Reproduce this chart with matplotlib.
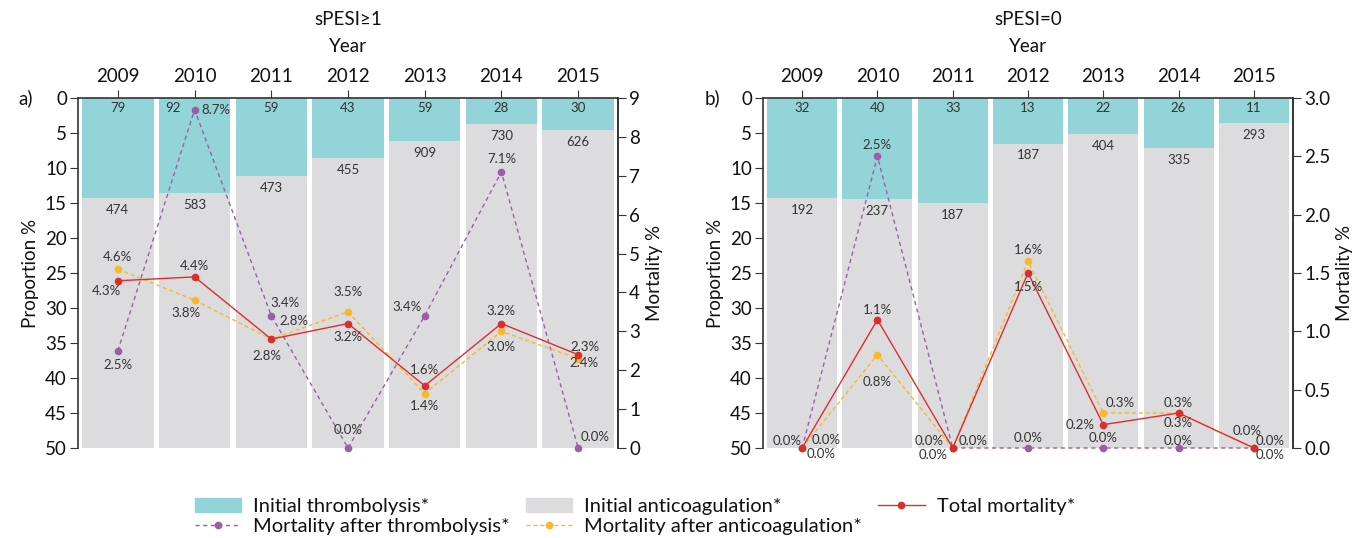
import matplotlib.pyplot as plt
from matplotlib.patches import Patch
from matplotlib.lines import Line2D
import numpy as np

plt.rcParams['font.family'] = ['Lato', 'DejaVu Sans']

years = [2009, 2010, 2011, 2012, 2013, 2014, 2015]

# sPESI >= 1
thromb_n_a = [79, 92, 59, 43, 59, 28, 30]
anticoag_n_a = [474, 583, 473, 455, 909, 730, 626]
mort_thromb_a = [2.5, 8.7, 3.4, 0.0, 3.4, 7.1, 0.0]
mort_anticoag_a = [4.6, 3.8, 2.8, 3.5, 1.4, 3.0, 2.3]
mort_total_a = [4.3, 4.4, 2.8, 3.2, 1.6, 3.2, 2.4]

# sPESI = 0
thromb_n_b = [32, 40, 33, 13, 22, 26, 11]
anticoag_n_b = [192, 237, 187, 187, 404, 335, 293]
mort_thromb_b = [0.0, 2.5, 0.0, 0.0, 0.0, 0.0, 0.0]
mort_anticoag_b = [0.0, 0.8, 0.0, 1.6, 0.3, 0.3, 0.0]
mort_total_b = [0.0, 1.1, 0.0, 1.5, 0.2, 0.3, 0.0]

TEAL = '#92d4d8'
GREY = '#dcdcde'
PURPLE = '#9b5fa8'
YELLOW = '#f7b82b'
RED = '#d7302f'
TXT = '#333333'

# label offsets in points (dx, dy) for each mortality point
off_a = {
    'thromb': [(0, -10), (15, 0), (10, 9), (0, 13), (-13, 6), (0, 9), (12, 8)],
    'anticoag': [(0, 9), (-6, -9), (16, 13), (0, 14), (0, -9), (0, -11), (5, 8)],
    'total': [(-8, -7), (0, 8), (-3, -12), (0, -10), (0, 11), (0, 9), (4, -6)],
}
off_b = {
    'thromb': [(14, -4), (0, 8), (-14, -5), (0, 7), (0, 7), (0, 5), (-5, 12)],
    'anticoag': [(17, 6), (0, -20), (15, 5), (0, 8), (12, 7), (0, -7), (12, 5)],
    'total': [(-11, 5), (0, 7), (-17, 5), (0, -10), (-17, 0), (0, 7), (12, -5)],
}


def panel(ax, thromb_n, anticoag_n, m_thromb, m_anticoag, m_total,
          mmax, mticks, mfmt, title, letter, offs, shift92=False):
    x = np.arange(len(years))
    t = np.array(thromb_n, dtype=float)
    a = np.array(anticoag_n, dtype=float)
    prop = t / (t + a) * 100

    ax.bar(x, prop, width=0.93, color=TEAL, zorder=1)
    ax.bar(x, 100 - prop, bottom=prop, width=0.93, color=GREY, zorder=1)
    ax.set_ylim(50, 0)
    ax.set_xlim(-0.52, 6.52)
    ax.set_yticks(np.arange(0, 51, 5))

    for i in range(len(x)):
        dx = -0.28 if (shift92 and i == 1) else 0
        ax.text(x[i] + dx, 1.4, f'{thromb_n[i]}', ha='center', va='center',
                fontsize=9.5, color=TXT)
        ax.text(x[i], prop[i] + 1.7, f'{anticoag_n[i]}', ha='center', va='center',
                fontsize=9.5, color=TXT)

    ax.xaxis.tick_top()
    ax.set_xticks(x, [str(y) for y in years])
    ax.tick_params(axis='x', top=True, bottom=False, length=6, labelsize=13.5,
                   colors=TXT, labelcolor='#111111', pad=3)
    ax.tick_params(axis='y', length=6, labelsize=13.5, colors=TXT,
                   labelcolor='#111111', pad=2)
    ax.set_ylabel('Proportion %', fontsize=13.5, color='#111111', labelpad=4)
    ax.spines['bottom'].set_visible(False)
    for s in ('left', 'top', 'right'):
        ax.spines[s].set_color(TXT)
        ax.spines[s].set_linewidth(1.2)

    ax.text(0.5, 1.146, 'Year', transform=ax.transAxes, ha='center',
            va='center', fontsize=13.5, color='#111111')
    ax.text(0.5, 1.223, title, transform=ax.transAxes, ha='center',
            va='center', fontsize=13.5, color='#111111')
    ax.text(-0.11, 1.0, letter, transform=ax.transAxes, ha='left',
            va='center', fontsize=13.5, color='#111111')

    ax2 = ax.twinx()
    ax2.set_ylim(0, mmax)
    ax2.set_yticks(mticks)
    ax2.yaxis.set_major_formatter(plt.FormatStrFormatter(mfmt))
    ax2.tick_params(axis='y', length=6, labelsize=13.5, colors=TXT,
                    labelcolor='#111111', pad=2)
    ax2.set_ylabel('Mortality %', fontsize=13.5, color='#111111', labelpad=4)
    for s in ('left', 'top', 'bottom'):
        ax2.spines[s].set_visible(False)
    ax2.spines['right'].set_color(TXT)
    ax2.spines['right'].set_linewidth(1.2)

    series = [
        ('thromb', m_thromb, PURPLE, (0, (3, 2.5))),
        ('anticoag', m_anticoag, YELLOW, (0, (3, 2))),
        ('total', m_total, RED, '-'),
    ]
    for key, vals, col, ls in series:
        ax2.plot(x, vals, color=col, linestyle=ls, linewidth=1.0,
                 marker='o', markersize=4.5, clip_on=False)
        for i, v in enumerate(vals):
            ax2.annotate(f'{v:.1f}%', (x[i], v), xytext=offs[key][i],
                         textcoords='offset points', ha='center', va='center',
                         fontsize=9.5, color=TXT, annotation_clip=False)
    return ax2


fig = plt.figure(figsize=(13.68, 5.38), dpi=100)
ax_a = fig.add_axes([78 / 1368, 90 / 538, 540 / 1368, 350 / 538])
ax_b = fig.add_axes([763 / 1368, 90 / 538, 530 / 1368, 350 / 538])

panel(ax_a, thromb_n_a, anticoag_n_a, mort_thromb_a, mort_anticoag_a,
      mort_total_a, 9, np.arange(0, 10, 1), '%d', 'sPESI\u22651', 'a)',
      off_a, shift92=True)
panel(ax_b, thromb_n_b, anticoag_n_b, mort_thromb_b, mort_anticoag_b,
      mort_total_b, 3.0, np.arange(0, 3.01, 0.5), '%.1f', 'sPESI=0', 'b)',
      off_b)

handles = [
    Patch(color=TEAL),
    Line2D([], [], color=PURPLE, linestyle=(0, (3, 2.5)), linewidth=1.0,
           marker='o', markersize=4.5),
    Patch(color=GREY),
    Line2D([], [], color=YELLOW, linestyle=(0, (3, 2)), linewidth=1.0,
           marker='o', markersize=4.5),
    Line2D([], [], color=RED, linewidth=1.0, marker='o', markersize=4.5),
]
labels = ['Initial thrombolysis*', 'Mortality after thrombolysis*',
          'Initial anticoagulation*', 'Mortality after anticoagulation*',
          'Total mortality*']
fig.legend(handles, labels, loc='center', bbox_to_anchor=(0.464, 0.04),
           ncol=3, frameon=False, fontsize=14.5, handlelength=2.3,
           handletextpad=0.6, columnspacing=0.8, labelspacing=0.1,
           labelcolor='#111111')

fig.savefig('out.png', dpi=100)
